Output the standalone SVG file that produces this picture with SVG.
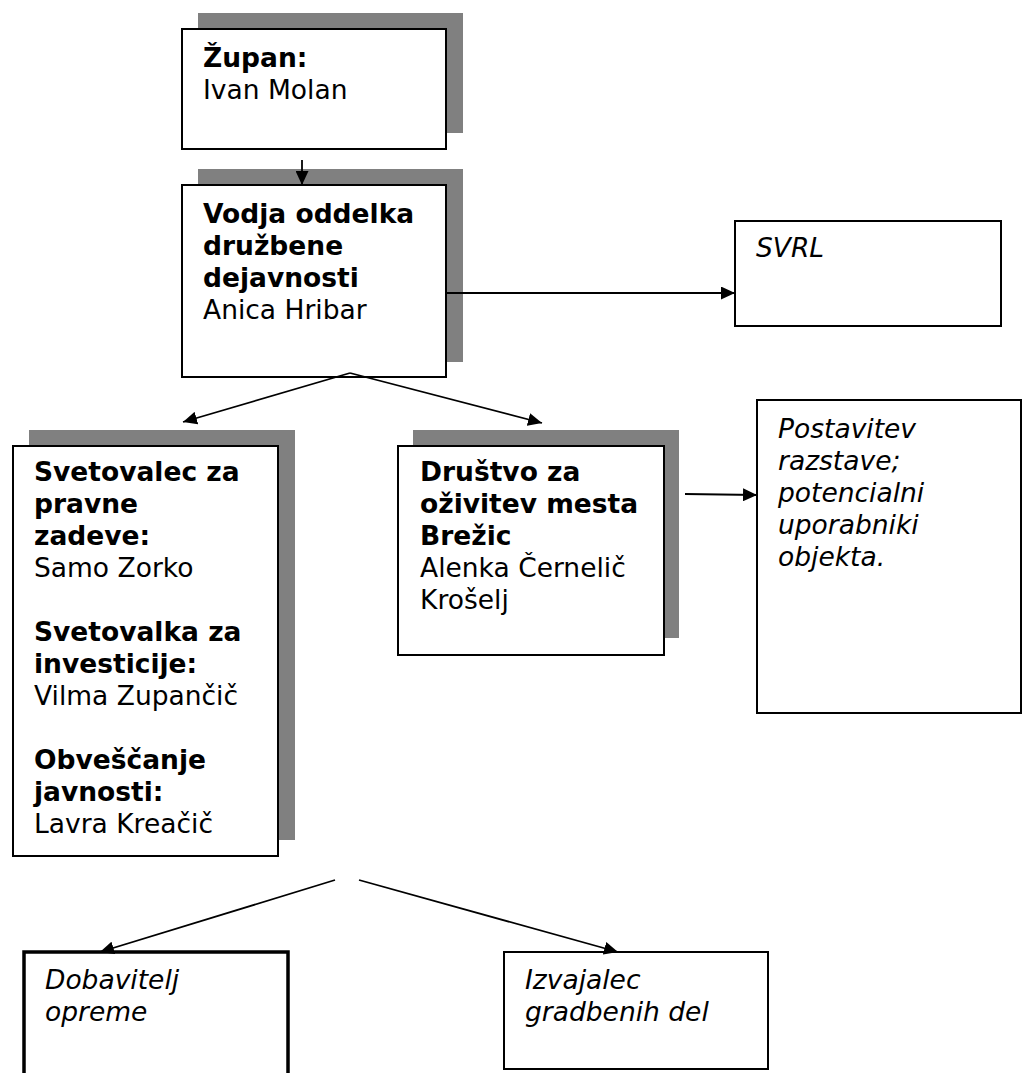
<svg xmlns="http://www.w3.org/2000/svg" width="1023" height="1073" viewBox="0 0 1023 1073">
<defs>
<marker id="ah" markerUnits="userSpaceOnUse" markerWidth="15" markerHeight="13" refX="14" refY="6.5" orient="auto">
<path d="M0,0 L14,6.5 L0,13 z" fill="#000"/>
</marker>
</defs>
<style>
.sh{fill:#808080}
.bx{fill:#fff;stroke:#000;stroke-width:2}
.t{font-family:"DejaVu Sans",Verdana,sans-serif;font-size:26.5px;fill:#000}
.b{font-weight:bold}
.i{font-style:italic}
.c{stroke:#000;stroke-width:1.8;fill:none;marker-end:url(#ah)}
</style>
<rect width="1023" height="1073" fill="#fff"/>
<g id="zupan">
<rect class="sh" x="198" y="13" width="265" height="120"/>
<rect class="bx" x="182" y="29" width="264" height="120"/>
<text class="t" x="203" y="67"><tspan class="b">Župan:</tspan><tspan x="203" y="99">Ivan Molan</tspan></text>
</g>
<g id="vodja">
<rect class="sh" x="198" y="169" width="265" height="193"/>
<rect class="bx" x="182" y="185" width="264" height="192"/>
<text class="t" x="203" y="223"><tspan class="b">Vodja oddelka</tspan><tspan class="b" x="203" y="255">družbene</tspan><tspan class="b" x="203" y="287">dejavnosti</tspan><tspan x="203" y="319">Anica Hribar</tspan></text>
</g>
<g id="svrl">
<rect class="bx" x="735" y="221" width="266" height="105"/>
<text class="t i" x="756" y="257">SVRL</text>
</g>
<g id="svetovalci">
<rect class="sh" x="29" y="430" width="266" height="410"/>
<rect class="bx" x="13" y="446" width="265" height="410"/>
<text class="t" x="34" y="481"><tspan class="b">Svetovalec za</tspan><tspan class="b" x="34" y="513">pravne</tspan><tspan class="b" x="34" y="545">zadeve:</tspan><tspan x="34" y="577">Samo Zorko</tspan><tspan class="b" x="34" y="641">Svetovalka za</tspan><tspan class="b" x="34" y="673">investicije:</tspan><tspan x="34" y="705">Vilma Zupančič</tspan><tspan class="b" x="34" y="769">Obveščanje</tspan><tspan class="b" x="34" y="801">javnosti:</tspan><tspan x="34" y="833">Lavra Kreačič</tspan></text>
</g>
<g id="drustvo">
<rect class="sh" x="413" y="430" width="266" height="208"/>
<rect class="bx" x="398" y="446" width="266" height="209"/>
<text class="t" x="420" y="481"><tspan class="b">Društvo za</tspan><tspan class="b" x="420" y="513">oživitev mesta</tspan><tspan class="b" x="420" y="545">Brežic</tspan><tspan x="420" y="577">Alenka Černelič</tspan><tspan x="420" y="609">Krošelj</tspan></text>
</g>
<g id="postavitev">
<rect class="bx" x="757" y="400" width="264" height="313"/>
<text class="t i" x="778" y="438"><tspan>Postavitev</tspan><tspan x="778" y="470">razstave;</tspan><tspan x="778" y="502">potencialni</tspan><tspan x="778" y="534">uporabniki</tspan><tspan x="778" y="566">objekta.</tspan></text>
</g>
<g id="dobavitelj">
<rect fill="#fff" stroke="#000" stroke-width="3.5" x="24" y="952" width="264" height="140"/>
<text class="t i" x="45" y="989"><tspan>Dobavitelj</tspan><tspan x="45" y="1021">opreme</tspan></text>
</g>
<g id="izvajalec">
<rect class="bx" x="504" y="952" width="264" height="117"/>
<text class="t i" x="525" y="989"><tspan>Izvajalec</tspan><tspan x="525" y="1021">gradbenih del</tspan></text>
</g>
<g id="connectors">
<line class="c" x1="302" y1="160" x2="302" y2="185"/>
<line class="c" x1="446" y1="293" x2="735" y2="293"/>
<line class="c" x1="350" y1="373" x2="183" y2="422"/>
<line class="c" x1="350" y1="373" x2="542" y2="423"/>
<line class="c" x1="685" y1="494" x2="757" y2="495"/>
<line class="c" x1="335" y1="880" x2="100" y2="952"/>
<line class="c" x1="359" y1="880" x2="618" y2="952"/>
</g>
</svg>
